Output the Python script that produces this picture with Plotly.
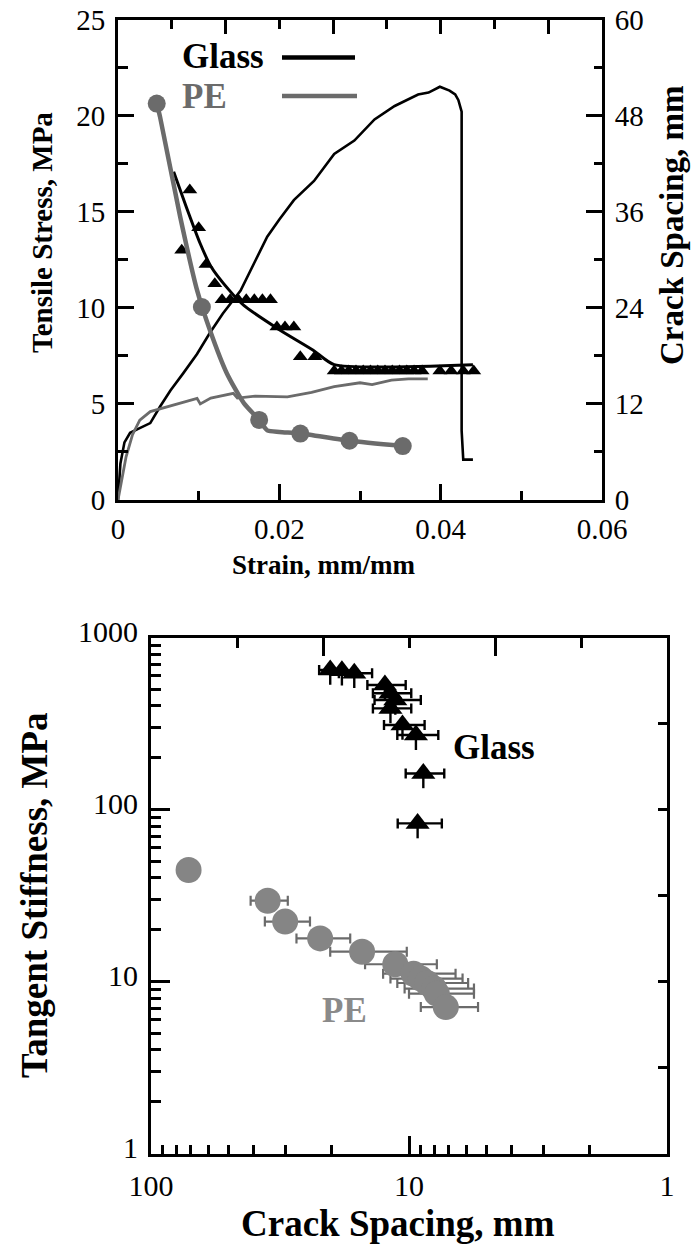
import numpy as np
import plotly.graph_objects as go

W, H = 691, 1245
FONT = "Liberation Serif, Times New Roman, Times, serif"
GRAY_TOP = "#6b6b6b"
GRAY_BOT = "#858585"

# ---------------- Top panel data ----------------
glass_stress_strain = [0, 0.0003, 0.0008, 0.0015, 0.0025, 0.004, 0.0052, 0.0065, 0.0081, 0.0098,
                       0.0114, 0.013, 0.0152, 0.0165, 0.0177, 0.0185, 0.02, 0.0218, 0.0243, 0.0268,
                       0.0293, 0.0318, 0.0343, 0.0372, 0.0385, 0.0399, 0.0411, 0.0418, 0.0422, 0.0426,
                       0.0426, 0.0428, 0.044]
glass_stress = [0, 1.9, 3.0, 3.5, 3.7, 4.0, 4.85, 5.7, 6.6, 7.6,
                8.7, 9.7, 10.9, 12.0, 13.0, 13.7, 14.6, 15.6, 16.6, 18.0,
                18.7, 19.8, 20.5, 21.1, 21.2, 21.5, 21.3, 21.1, 20.8, 20.2,
                3.6, 2.1, 2.1]

pe_stress_strain = [0, 0.0005, 0.001, 0.0018, 0.0027, 0.004, 0.006, 0.008, 0.0098, 0.0102,
                    0.0115, 0.0143, 0.0148, 0.017, 0.021, 0.024, 0.0268, 0.03, 0.0315, 0.0339,
                    0.036, 0.0384]
pe_stress = [0, 1.2, 2.25, 3.4, 4.16, 4.6, 4.85, 5.1, 5.29, 5.0,
             5.3, 5.55, 5.3, 5.4, 5.37, 5.6, 5.9, 6.1, 6.0, 6.24,
             6.3, 6.3]

glass_fit_strain = [0.0069, 0.0085, 0.0102, 0.0115, 0.0137, 0.0156, 0.0201, 0.0242, 0.0268, 0.044]
glass_fit_spacing = [41.0, 36.5, 32.0, 29.2, 26.3, 24.3, 21.2, 18.7, 16.9, 16.9]

glass_pts_strain = [0.0079, 0.0089, 0.0100, 0.0109, 0.0120,
                    0.0129, 0.0139, 0.0149, 0.0159, 0.0169, 0.0179, 0.0189,
                    0.0197, 0.0207, 0.0218,
                    0.0226, 0.0244,
                    0.0268, 0.0277, 0.0286, 0.0295, 0.0304, 0.0313, 0.0322, 0.0331,
                    0.0340, 0.0349, 0.0358, 0.0367, 0.0377,
                    0.0399, 0.0413, 0.0428, 0.0441]
glass_pts_spacing = [31.2, 38.7, 34.0, 29.4, 27.0,
                     25.0, 25.0, 25.0, 25.0, 25.0, 25.0, 25.0,
                     21.6, 21.6, 21.6,
                     17.9, 17.9,
                     16.1, 16.1, 16.1, 16.1, 16.1, 16.1, 16.1, 16.1,
                     16.1, 16.1, 16.1, 16.1, 16.1,
                     16.1, 16.1, 16.1, 16.1]

pe_fit_strain = [0.0048, 0.0052, 0.0077, 0.0098, 0.0114, 0.0135, 0.0156, 0.0175, 0.0185, 0.0200,
                 0.0226, 0.0287, 0.0353]
pe_fit_spacing = [49.5, 47.9, 35.4, 26.2, 21.2, 15.8, 12.1, 10.0, 8.7, 8.5,
                  8.3, 7.4, 6.74]
pe_pts_strain = [0.0048, 0.0104, 0.0175, 0.0226, 0.0287, 0.0353]
pe_pts_spacing = [49.5, 24.1, 10.0, 8.3, 7.4, 6.74]

# ---------------- Bottom panel data ----------------
glass_cs = [20.2, 18.2, 16.3, 12.4, 11.8, 11.3, 11.8, 10.6, 9.4, 8.8, 9.26]
glass_stiff = [647, 641, 620, 529, 474, 433, 387, 310, 271, 162, 83]
glass_cs_err = [2.1, 2.0, 2.4, 2.1, 2.0, 2.3, 2.0, 1.9, 1.7, 1.5, 1.8]
glass_stiff_err_lo = [116, 115, 112, 95, 85, 78, 70, 56, 49, 29, 15]

pe_cs = [71.5, 35.3, 30.2, 22.1, 15.2, 11.3, 9.6, 9.0, 8.5, 8.0, 7.8, 7.2]
pe_stiff = [44.5, 29.5, 22.3, 17.8, 14.9, 12.6, 11.1, 10.4, 9.8, 9.1, 8.5, 7.1]
pe_cs_err = [0, 5.8, 6.0, 5.2, 5.0, 3.5, 3.0, 2.8, 2.6, 2.4, 2.2, 1.8]

top_x_ticks = [0, 0.02, 0.04, 0.06]
top_x_labels = ["0", "0.02", "0.04", "0.06"]
left_ticks = [0, 5, 10, 15, 20, 25]
right_ticks = [0, 12, 24, 36, 48, 60]
log_ticks = [1, 10, 100, 1000]


def px(x):
    return x / W


def py(y):
    return 1 - y / H


fig = go.Figure()

# top panel traces
fig.add_trace(go.Scatter(x=glass_stress_strain, y=glass_stress, mode="lines",
                         line=dict(color="black", width=2.6), xaxis="x", yaxis="y"))
fig.add_trace(go.Scatter(x=pe_stress_strain, y=pe_stress, mode="lines",
                         line=dict(color=GRAY_TOP, width=2.8), xaxis="x", yaxis="y"))
fig.add_trace(go.Scatter(x=glass_fit_strain, y=glass_fit_spacing, mode="lines",
                         line=dict(color="black", width=3, shape="spline", smoothing=0.6),
                         xaxis="x", yaxis="y2"))
fig.add_trace(go.Scatter(x=glass_pts_strain, y=glass_pts_spacing, mode="markers",
                         marker=dict(symbol="triangle-up", size=13, color="black"),
                         xaxis="x", yaxis="y2"))
fig.add_trace(go.Scatter(x=pe_fit_strain, y=pe_fit_spacing, mode="lines",
                         line=dict(color=GRAY_TOP, width=4.5, shape="spline", smoothing=0.6),
                         xaxis="x", yaxis="y2"))
fig.add_trace(go.Scatter(x=pe_pts_strain, y=pe_pts_spacing, mode="markers",
                         marker=dict(symbol="circle", size=18, color=GRAY_TOP),
                         xaxis="x", yaxis="y2"))
fig.add_trace(go.Scatter(x=[], y=[], xaxis="x3", yaxis="y"))

# bottom panel traces
fig.add_trace(go.Scatter(x=pe_cs, y=pe_stiff, mode="markers",
                         marker=dict(symbol="circle", size=26, color=GRAY_BOT),
                         error_x=dict(type="data", array=pe_cs_err, color=GRAY_TOP,
                                      thickness=2.2, width=5),
                         xaxis="x2", yaxis="y3"))
fig.add_trace(go.Scatter(x=glass_cs, y=glass_stiff, mode="markers",
                         marker=dict(symbol="triangle-up", size=21, color="black"),
                         error_x=dict(type="data", array=glass_cs_err, color="black",
                                      thickness=2.4, width=5),
                         error_y=dict(type="data", symmetric=False, array=[0] * len(glass_stiff),
                                      arrayminus=glass_stiff_err_lo, color="black",
                                      thickness=2.4, width=0),
                         xaxis="x2", yaxis="y3"))
fig.add_trace(go.Scatter(x=[], y=[], xaxis="x4", yaxis="y3"))
fig.add_trace(go.Scatter(x=[], y=[], xaxis="x2", yaxis="y4"))

tickfont_top = dict(family=FONT, size=29, color="black")
tickfont_bot = dict(family=FONT, size=30, color="black")
common = dict(showline=True, linewidth=3, linecolor="black", showgrid=False, zeroline=False,
              ticks="inside", tickwidth=3, tickcolor="black", automargin=False)

dom_top_x = [px(118), px(602)]
dom_top_y = [py(500), py(19.5)]
dom_bot_x = [px(151), px(667)]
dom_bot_y = [py(1153.5), py(637.5)]

layout = dict(
    width=W, height=H, margin=dict(l=0, r=0, t=0, b=0, autoexpand=False),
    font=dict(family=FONT, color="black"),
    paper_bgcolor="white", plot_bgcolor="white", showlegend=False,
    xaxis=dict(domain=dom_top_x, anchor="y", range=[0, 0.06], tickvals=top_x_ticks,
               ticktext=top_x_labels, ticklen=16, tickfont=tickfont_top,
               ticklabelstandoff=1,
               minor=dict(tickvals=[0.01, 0.03, 0.05], ticklen=9, tickwidth=3,
                          ticks="inside", tickcolor="black"), **common),
    xaxis3=dict(domain=dom_top_x, anchor="y", overlaying="x", side="top", range=[0, 0.06],
                tickvals=[0.04 / 3 * k for k in range(1, 5)], ticklen=14,
                showticklabels=False,
                minor=dict(tickvals=[0.02 / 3 * (2 * k + 1) for k in range(0, 5)], ticklen=9,
                           tickwidth=3, ticks="inside", tickcolor="black"), **common),
    yaxis=dict(domain=dom_top_y, anchor="x", range=[0, 25], tickvals=left_ticks,
               ticklen=16, tickfont=tickfont_top, ticklabelstandoff=4,
               minor=dict(tickvals=[2.5, 7.5, 12.5, 17.5, 22.5], ticklen=10, tickwidth=3,
                          ticks="inside", tickcolor="black"), **common),
    yaxis2=dict(domain=dom_top_y, anchor="x", overlaying="y", side="right", range=[0, 60],
                tickvals=right_ticks, ticklen=16, tickfont=tickfont_top, ticklabelstandoff=4,
                minor=dict(tickvals=[6, 18, 30, 42, 54], ticklen=8, tickwidth=3,
                           ticks="inside", tickcolor="black"), **common),
    xaxis2=dict(domain=dom_bot_x, anchor="y3", type="log", range=[2, 0], tickvals=[100, 10, 1],
                ticktext=["100", "10", "1"], ticklen=18, tickfont=tickfont_bot,
                ticklabelstandoff=3,
                minor=dict(tickvals=[v * d for d in (10, 1) for v in range(2, 10)], ticklen=9,
                           tickwidth=3, ticks="inside", tickcolor="black"), **common),
    xaxis4=dict(domain=dom_bot_x, anchor="y3", overlaying="x2", side="top", type="log",
                range=[2, 0], tickvals=[10 ** (4 / 3), 10 ** (2 / 3)], ticklen=18,
                showticklabels=False,
                minor=dict(tickvals=[10 ** (5 / 3), 10, 10 ** (1 / 3)], ticklen=10, tickwidth=3,
                           ticks="inside", tickcolor="black"), **common),
    yaxis3=dict(domain=dom_bot_y, anchor="x2", type="log", range=[0, 3], tickvals=log_ticks,
                ticktext=[str(v) for v in log_ticks], ticklen=19, tickfont=tickfont_bot,
                ticklabelstandoff=4, ticklabelshift=-6,
                minor=dict(tickvals=[v * d for d in (1, 10, 100) for v in range(2, 10)],
                           ticklen=10, tickwidth=3, ticks="inside", tickcolor="black"), **common),
    yaxis4=dict(domain=dom_bot_y, anchor="x2", overlaying="y3", side="right", type="log",
                range=[0, 3], tickvals=[10 ** 0.5, 10, 10 ** 1.5, 100, 10 ** 2.5], ticklen=9,
                showticklabels=False, **common),
)
fig.update_layout(**layout)

ann = []
bold = lambda s, c="black": dict(family=FONT, size=s, color=c)
ann.append(dict(text="<b>Tensile Stress, MPa</b>", x=px(42), y=py(233), textangle=-90,
                font=bold(29)))
ann.append(dict(text="<b>Crack Spacing, mm</b>", x=px(672), y=py(225), textangle=-90,
                font=bold(33)))
ann.append(dict(text="<b>Strain, mm/mm</b>", x=px(323), y=py(565), font=bold(27)))
ann.append(dict(text="<b>Tangent Stiffness, MPa</b>", x=px(35), y=py(895), textangle=-90,
                font=bold(37)))
ann.append(dict(text="<b>Crack Spacing, mm</b>", x=px(398), y=py(1223), font=bold(37)))
ann.append(dict(text="<b>Glass</b>", x=px(180), y=py(57), xanchor="left", font=bold(35)))
ann.append(dict(text="<b>PE</b>", x=px(180), y=py(96), xanchor="left", font=bold(35, GRAY_TOP)))
ann.append(dict(text="<b>Glass</b>", x=px(494), y=py(747), font=bold(35)))
ann.append(dict(text="<b>PE</b>", x=px(344), y=py(1010), font=bold(35, "#8a8a8a")))
for a in ann:
    a.update(xref="paper", yref="paper", showarrow=False)
    a.setdefault("xanchor", "center")
    a.setdefault("yanchor", "middle")
fig.update_layout(annotations=ann)

fig.update_layout(shapes=[
    dict(type="line", xref="paper", yref="paper", x0=px(282), x1=px(355), y0=py(57.5), y1=py(57.5),
         line=dict(color="black", width=4.5)),
    dict(type="line", xref="paper", yref="paper", x0=px(282), x1=px(357), y0=py(96), y1=py(96),
         line=dict(color=GRAY_TOP, width=4.5)),
])

fig.write_html("out.html")
